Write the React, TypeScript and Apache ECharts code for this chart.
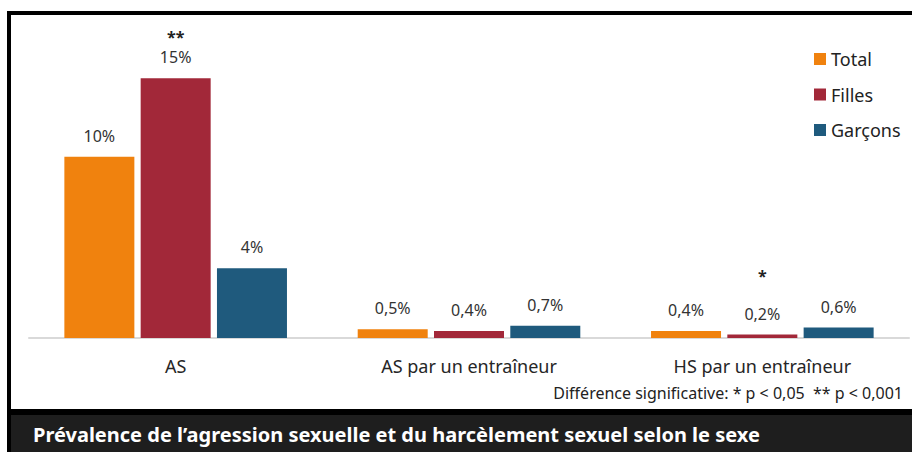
import React, { useEffect, useRef } from "react";
import * as echarts from "echarts";

const categories = ["AS", "AS par un entraîneur", "HS par un entraîneur"];
const seriesNames = ["Total", "Filles", "Garçons"];
const totalValues = [10.4, 0.5, 0.4];
const fillesValues = [14.9, 0.4, 0.2];
const garconsValues = [4.0, 0.7, 0.6];
const totalLabels = ["10%", "0,5%", "0,4%"];
const fillesLabels = ["15%", "0,4%", "0,2%"];
const garconsLabels = ["4%", "0,7%", "0,6%"];
const totalStars = ["", "", ""];
const fillesStars = ["**", "", "*"];
const garconsStars = ["", "", ""];
const colors = ["#F0820E", "#A22839", "#1F5A7D"];
const footnote = "Différence significative: * p < 0,05  ** p < 0,001";
const title = "Prévalence de l’agression sexuelle et du harcèlement sexuel selon le sexe";

const starGap = [22, 22, 58];
const FONT = "'Noto Sans', sans-serif";

function buildData(values: number[], labels: string[], stars: string[]) {
  return values.map((v, i) => ({
    value: v,
    label: {
      formatter: stars[i] ? `{s|${stars[i]}}\n{v|${labels[i]}}` : `{v|${labels[i]}}`,
      rich: {
        s: { fontSize: 16, fontWeight: "bold", color: "#222", lineHeight: starGap[i], fontFamily: FONT },
        v: { fontSize: 16, color: "#333", lineHeight: 18, fontFamily: FONT },
      },
    },
  }));
}

export default function App() {
  const ref = useRef<HTMLDivElement>(null);
  useEffect(() => {
    if (!ref.current) return;
    const chart = echarts.init(ref.current, undefined, { renderer: "svg" });
    const allValues = [totalValues, fillesValues, garconsValues];
    const allLabels = [totalLabels, fillesLabels, garconsLabels];
    const allStars = [totalStars, fillesStars, garconsStars];
    chart.setOption({
      animation: false,
      backgroundColor: "#fff",
      textStyle: { fontFamily: FONT },
      grid: { left: 29, right: 3, top: 59, bottom: 114, containLabel: false },
      legend: {
        orient: "vertical",
        left: 809,
        top: 45,
        itemWidth: 12,
        itemHeight: 12,
        itemGap: 17.5,
        icon: "rect",
        textStyle: { fontSize: 18, color: "#222", lineHeight: 18, fontFamily: FONT },
        data: seriesNames,
      },
      xAxis: {
        type: "category",
        data: categories,
        axisLine: { show: true, lineStyle: { color: "#D9D9D9", width: 2 } },
        axisTick: { show: false },
        axisLabel: { fontSize: 18, color: "#262626", margin: 19, fontFamily: FONT },
      },
      yAxis: {
        type: "value",
        min: 0,
        max: 16,
        show: false,
        splitLine: { show: false },
      },
      series: seriesNames.map((name, si) => ({
        name,
        type: "bar",
        barWidth: 70,
        barGap: "9%",
        itemStyle: { color: colors[si] },
        label: { show: true, position: "top", distance: 12 },
        data: buildData(allValues[si], allLabels[si], allStars[si]),
      })),
      graphic: [
        {
          type: "rect",
          z: -10,
          silent: true,
          shape: { x: 9, y: 13, width: 920, height: 430 },
          style: { fill: "#fff", stroke: "#000", lineWidth: 4 },
        },
        {
          type: "rect",
          z: 10,
          silent: true,
          shape: { x: 7, y: 409, width: 905, height: 6 },
          style: { fill: "#000" },
        },
        {
          type: "rect",
          z: 10,
          silent: true,
          shape: { x: 11, y: 415, width: 901, height: 37 },
          style: { fill: "#1E1E1E" },
        },
        {
          type: "rect",
          z: 10,
          silent: true,
          shape: { x: 7, y: 409, width: 4, height: 43 },
          style: { fill: "#000" },
        },
        {
          type: "text",
          z: 11,
          left: 33,
          top: 424,
          style: { text: title, fill: "#fff", fontSize: 20, fontWeight: "bold", fontFamily: FONT },
        },
        {
          type: "text",
          z: 11,
          right: 9,
          top: 385,
          style: { text: footnote, fill: "#222", fontSize: 16, fontFamily: FONT },
        },
      ],
    });
    return () => chart.dispose();
  }, []);
  return (
    <div
      ref={ref}
      style={{ position: "fixed", left: 0, top: 0, width: 912, height: 452 }}
    />
  );
}
